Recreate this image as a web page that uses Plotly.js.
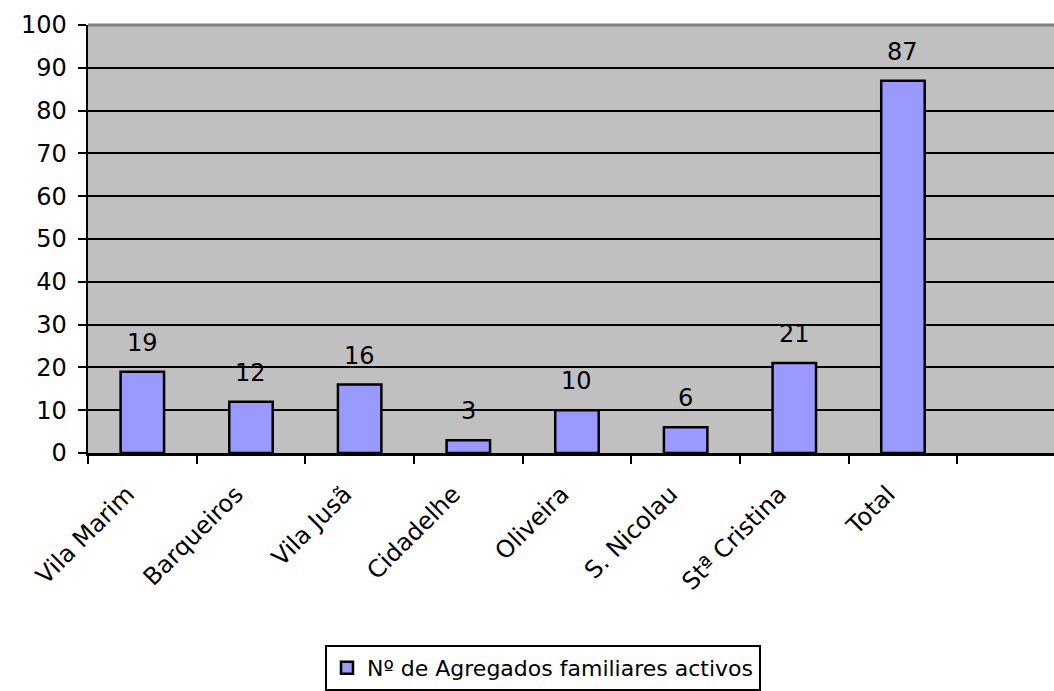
<!DOCTYPE html>
<html><head><meta charset="utf-8">
<script src="https://cdn.plot.ly/plotly-3.0.1.min.js"></script>
<style>body{margin:0;background:#fff}</style>
</head><body>
<div id="chart" style="width:1054px;height:691px"></div>
<script>
const categories = ["Vila Marim","Barqueiros","Vila Jusã","Cidadelhe","Oliveira","S. Nicolau","Stª Cristina","Total"];
const values = [19,12,16,3,10,6,21,87];
const seriesName = "Nº de Agregados familiares activos";
const yTicks = [0,10,20,30,40,50,60,70,80,90,100];

const FONT = "DejaVu Sans, Verdana, sans-serif";
const trace = {
  type: "bar", x: categories, y: values, name: seriesName,
  width: 0.4,
  marker: {color: "#9999FF", line: {color: "#000", width: 2.5}},
  showlegend: true, hoverinfo: "none"
};
const annotations = categories.map((c,i)=>({
  x: c, y: values[i], text: String(values[i]), showarrow: false,
  yanchor: "bottom", yshift: 13, font: {family: FONT, size: 24, color: "#000"}
}));
const layout = {
  width: 1054, height: 691,
  margin: {l: 88, r: 0, t: 25, b: 236, pad: 0},
  paper_bgcolor: "#fff", plot_bgcolor: "#C0C0C0",
  font: {family: FONT, size: 24, color: "#000"},
  xaxis: {
    type: "category", range: [-0.5, 8.39], tickson: "boundaries",
    ticks: "outside", ticklen: 8, tickwidth: 2, tickcolor: "#000",
    showline: true, linecolor: "#000", linewidth: 2.5,
    showgrid: false, tickangle: -45, tickfont: {family: FONT, size: 24},
    ticklabelstandoff: 15, ticklabelshift: -15
  },
  yaxis: {
    range: [0, 100], tickvals: yTicks, ticks: "outside", ticklen: 8, tickwidth: 2,
    tickcolor: "#000", showline: true, linecolor: "#000", linewidth: 2.5,
    showgrid: true, gridcolor: "#000", gridwidth: 2, zeroline: false,
    tickfont: {family: FONT, size: 24}, ticklabelstandoff: 6
  },
  shapes: [{type: "line", xref: "paper", yref: "paper", x0: 0, x1: 1, y0: 1, y1: 1,
            line: {color: "#808080", width: 3}}],
  annotations: annotations,
  showlegend: true,
  legend: {
    x: 0.471, xanchor: "center", y: -0.45, yanchor: "top",
    bgcolor: "#fff", bordercolor: "#000", borderwidth: 2,
    font: {family: FONT, size: 22}, itemwidth: 30
  }
};
Plotly.newPlot("chart", [trace], layout, {staticPlot: true});
</script>
</body></html>
